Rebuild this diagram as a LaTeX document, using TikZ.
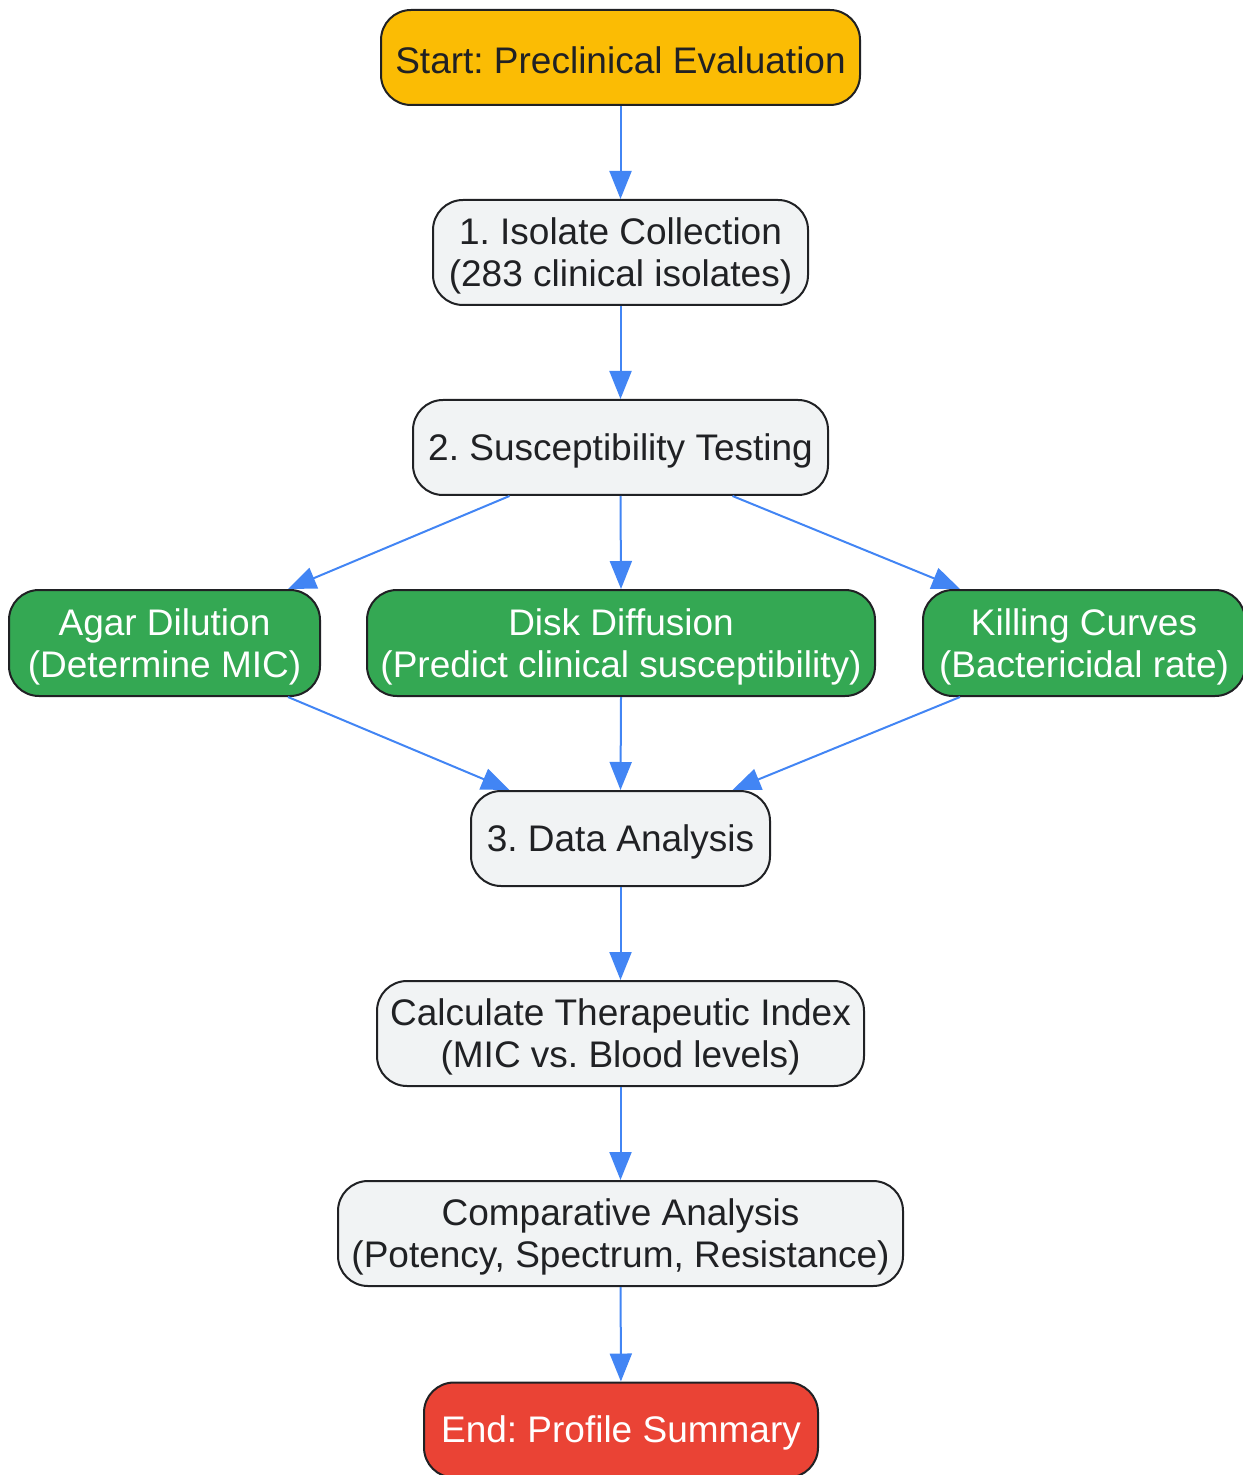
\documentclass[tikz,border=0pt]{standalone}
\usepackage{fontspec}
\setmainfont{Liberation Sans}
\usetikzlibrary{arrows.meta, calc}
\definecolor{startyellow}{HTML}{FBBC04}
\definecolor{methodgreen}{HTML}{34A853}
\definecolor{endred}{HTML}{EA4335}
\definecolor{stepgray}{HTML}{F1F3F4}
\definecolor{boxline}{HTML}{202124}
\definecolor{arrowblue}{HTML}{4285F4}
\frenchspacing
\tikzset{
    basebox/.style={draw=boxline, line width=1pt, rounded corners=15pt,
        align=center, inner sep=0pt, font=\fontsize{18.5}{21}\selectfont,
        execute at begin node=\rule{0pt}{16.5pt}},
    twoline/.style={text depth=0pt},
    stepbox/.style={basebox, fill=stepgray, text=boxline},
    startbox/.style={basebox, fill=startyellow, text=boxline,
        minimum height=47.5pt},
    methodbox/.style={basebox, fill=methodgreen, text=white,
        minimum height=53pt, twoline},
    endbox/.style={basebox, fill=endred, text=white, minimum height=47.5pt},
    flowarrow/.style={draw=arrowblue, line width=1pt,
        -{Triangle[length=14pt, width=11pt]}},
}

\begin{document}
\begin{tikzpicture}[x=0.5pt, y=-0.5pt]
    \useasboundingbox (0, 0) rectangle (1242, 1475);
    % main column
    \node[startbox, minimum width=239.5pt] (start) at (620.5, 57.5)
        {Start: Preclinical Evaluation};
    \node[stepbox, twoline, minimum width=187.5pt, minimum height=52.5pt]
        (isolate) at (620.5, 252.5)
        {1. Isolate Collection\\(283 clinical isolates)};
    \node[stepbox, minimum width=207.5pt, minimum height=47.5pt] (susc)
        at (620.5, 447.5) {2. Susceptibility Testing};
    % test methods
    \node[methodbox, minimum width=155.5pt] (agar) at (164.5, 643)
        {Agar Dilution\\(Determine MIC)};
    \node[methodbox, minimum width=254pt] (disk) at (621, 643)
        {Disk Diffusion\\(Predict clinical susceptibility)};
    \node[methodbox, minimum width=161pt] (killing) at (1084, 643)
        {Killing Curves\\(Bactericidal rate)};
    \node[stepbox, minimum width=149.5pt, minimum height=47.5pt] (data)
        at (620.5, 838.5) {3. Data Analysis};
    \node[stepbox, twoline, minimum width=243.5pt, minimum height=52.5pt]
        (index) at (620.5, 1033.5)
        {Calculate Therapeutic Index\\(MIC vs. Blood levels)};
    \node[stepbox, twoline, minimum width=282.5pt, minimum height=52.5pt]
        (compare) at (620.5, 1233.5)
        {Comparative Analysis\\(Potency, Spectrum, Resistance)};
    \node[endbox, minimum width=197pt] (finish) at (621, 1430)
        {End: Profile Summary};
    % connectors
    \draw[flowarrow] (start) -- (isolate);
    \draw[flowarrow] (isolate) -- (susc);
    \draw[flowarrow] ([xshift=-55.5pt]susc.south) --
        ([xshift=61.75pt]agar.north);
    \draw[flowarrow] (susc.south) -- (disk.north);
    \draw[flowarrow] ([xshift=56pt]susc.south) --
        ([xshift=-62pt]killing.north);
    \draw[flowarrow] ([xshift=61.75pt]agar.south) --
        ([xshift=-55.5pt]data.north);
    \draw[flowarrow] (disk.south) -- (data.north);
    \draw[flowarrow] ([xshift=-62pt]killing.south) --
        ([xshift=56pt]data.north);
    \draw[flowarrow] (data) -- (index);
    \draw[flowarrow] (index) -- (compare);
    \draw[flowarrow] (compare) -- (finish);
\end{tikzpicture}
\end{document}
